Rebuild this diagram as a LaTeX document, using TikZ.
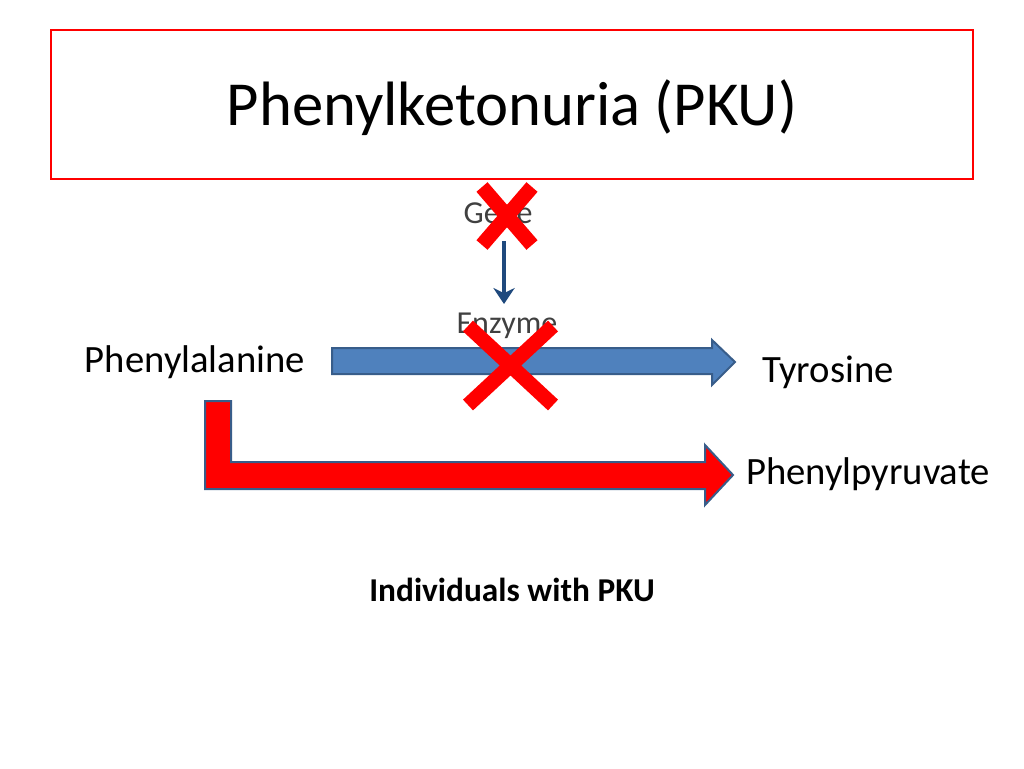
\documentclass[tikz,border=0pt]{standalone}
\usepackage{fontspec}
\setmainfont{Carlito}
\usetikzlibrary{arrows.meta}
\definecolor{accblue}{HTML}{4F81BD}
\definecolor{darkblue}{HTML}{1F497D}
\definecolor{edgeblue}{HTML}{385D8A}
\begin{document}
\begin{tikzpicture}[x=0.75pt,y=-0.75pt,
  lbl/.style={inner sep=0pt,anchor=center},
  cross/.style={draw=red,line width=11pt},
  fatarrow/.style={fill=#1,draw=edgeblue,line width=1.5pt}]
\useasboundingbox (0,0) rectangle (1024,768);
\node[draw=red,line width=1.2pt,minimum width=922*0.75pt,minimum height=149*0.75pt,inner sep=0pt] (title) at (512,104.5) {};
\node[lbl,font=\fontsize{47}{52}\selectfont] (tt) at (512,108) {Phenylketonuria (PKU)};
\node[lbl,font=\fontsize{24}{28}\selectfont,text=black!75] (gene) at (498,213) {Gene};
\draw[cross] (482,187) -- (532,245);
\draw[cross] (532,187) -- (482,245);
\node[lbl,font=\fontsize{24}{28}\selectfont,text=black!75] (enz) at (507,326) {Enzyme};
\draw[draw=darkblue,line width=3pt,-{Stealth[length=12pt,width=16pt]}] (504,241) -- (504,304);
% blue arrow
\fill[fatarrow=accblue] (332,348) -- (712,348) -- (712,340) -- (735,362) -- (712,385) -- (712,374) -- (332,374) -- cycle;
\draw[cross] (468,326) -- (553,405);
\draw[cross] (553,326) -- (468,405);
\node[lbl,font=\fontsize{29}{33}\selectfont] (phe) at (195,362) {Phenylalanine};
\node[lbl,font=\fontsize{29}{33}\selectfont] (tyr) at (828,372) {Tyrosine};
\node[lbl,font=\fontsize{29}{33}\selectfont] (pp) at (868,474) {Phenylpyruvate};
\fill[fatarrow=red] (205,401) -- (231,401) -- (231,462) -- (705,462) -- (705,445) -- (733,475) -- (705,505) -- (705,489) -- (205,489) -- cycle;
\node[lbl,font=\bfseries\fontsize{25}{29}\selectfont] (ind) at (512,590) {Individuals with PKU};
\end{tikzpicture}
\end{document}
